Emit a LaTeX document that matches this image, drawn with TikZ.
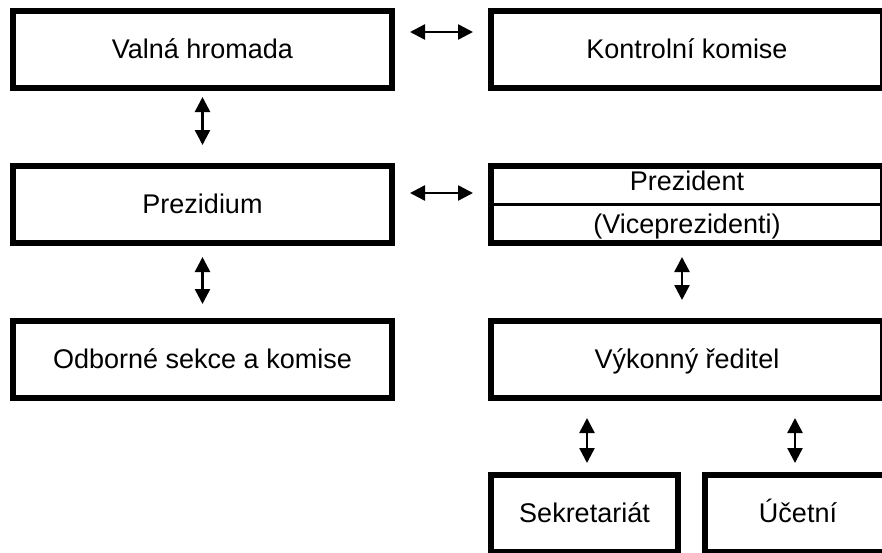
\documentclass[tikz,border=0pt]{standalone}
\usepackage{fontspec}
\setmainfont{Liberation Sans}
\usetikzlibrary{arrows.meta}
\begin{document}
\begin{tikzpicture}[x=1pt,y=-1pt,
  lbl/.style={font=\fontsize{27}{30}\selectfont,text height=21pt,text depth=4pt,inner sep=0pt},
  box/.style={lbl,draw=black,line width=6pt,minimum height=77pt,anchor=center},
  wide/.style={box,minimum width=379pt},
  wider/.style={box,minimum width=392pt},
  small/.style={box,minimum width=187pt},
  dbl/.style={line width=2.5pt,{Triangle[width=15pt,length=15pt]}-{Triangle[width=15pt,length=15pt]}}
]
\useasboundingbox (0,0) rectangle (882,552);
\clip (0,0) rectangle (882,552);
\node[wide] (valna) at (202.5,49.5) {Valná hromada};
\node[wider] (kontrol) at (687,49.5) {Kontrolní komise};
\node[wide] (prezidium) at (202.5,204.5) {Prezidium};
\node[wider] (prezident) at (687,204.5) {};
\node[lbl] (pt) at (687,182) {Prezident};
\node[lbl] (vt) at (687,225) {(Viceprezidenti)};
\draw[line width=3pt] (prezident.west |- 0,204.5) -- (prezident.east |- 0,204.5);
\node[wide] (odborne) at (202.5,359.5) {Odborné sekce a komise};
\node[wider] (vykonny) at (687,359.5) {Výkonný ředitel};
\node[small] (sekr) at (584.5,513.5) {Sekretariát};
\node[small] (ucet) at (798,513.5) {Účetní};
% arrows
\draw[dbl] ([xshift=15pt]valna.east |- 0,32) -- ([xshift=-15pt]kontrol.west |- 0,32);
\draw[dbl] ([xshift=15pt]prezidium.east |- 0,193) -- ([xshift=-15pt]prezident.west |- 0,193);
\draw[dbl] ([yshift=-6pt]valna.south) -- ([yshift=18pt]prezidium.north);
\draw[dbl] ([yshift=-11pt]prezidium.south) -- ([yshift=14pt]odborne.north);
\draw[dbl] ([yshift=-11pt]prezident.south -| 682,0) -- ([yshift=18pt]vykonny.north -| 682,0);
\draw[dbl] ([yshift=-17pt]vykonny.south -| 587,0) -- ([yshift=9pt]sekr.north -| 587,0);
\draw[dbl] ([yshift=-17pt]vykonny.south -| 795,0) -- ([yshift=9pt]ucet.north -| 795,0);
\end{tikzpicture}
\end{document}
